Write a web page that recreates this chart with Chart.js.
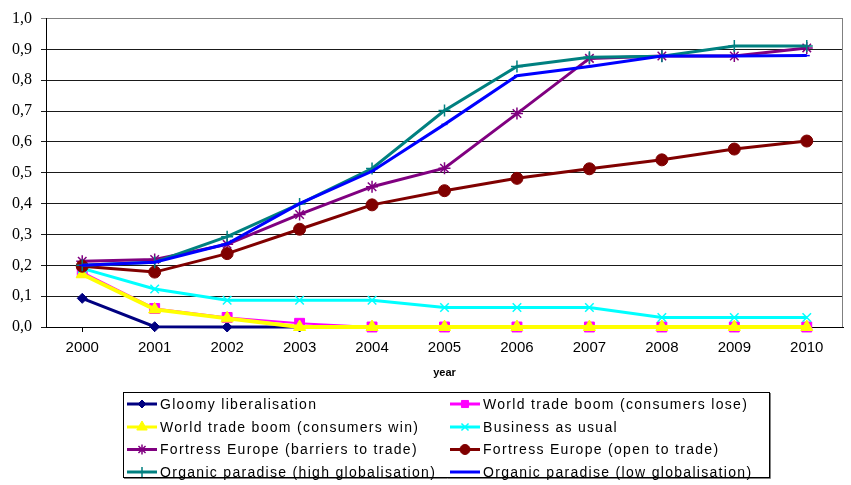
<!DOCTYPE html>
<html>
<head>
<meta charset="utf-8">
<script src="https://cdn.jsdelivr.net/npm/chart.js@4/dist/chart.umd.min.js"></script>
<style>
  body { margin: 0; background: #fff; }
  canvas { display: block; }
</style>
</head>
<body>
<canvas id="chart" width="851" height="485"></canvas>
<script>
// Data
const years = ['2000', '2001', '2002', '2003', '2004', '2005', '2006', '2007', '2008', '2009', '2010'];
const yTicks = [0, 0.1, 0.2, 0.3, 0.4, 0.5, 0.6, 0.7, 0.8, 0.9, 1.0];

const gloomy = [0.093, 0.001, 0, 0, 0, 0, 0, 0, 0, 0, 0];
const tradeLose = [0.178, 0.06, 0.031, 0.012, 0, 0, 0, 0, 0, 0, 0];
const tradeWin = [0.171, 0.057, 0.028, 0, 0, 0, 0, 0, 0, 0, 0];
const businessAsUsual = [0.19, 0.123, 0.087, 0.087, 0.087, 0.063, 0.063, 0.063, 0.031, 0.031, 0.031];
const fortressBarriers = [0.213, 0.219, 0.268, 0.365, 0.455, 0.515, 0.692, 0.871, 0.879, 0.879, 0.905];
const fortressOpen = [0.197, 0.178, 0.238, 0.317, 0.396, 0.442, 0.482, 0.513, 0.542, 0.577, 0.603];
const organicHigh = [0.2, 0.21, 0.293, 0.399, 0.514, 0.702, 0.845, 0.875, 0.878, 0.911, 0.911];
const organicLow = [0.2, 0.21, 0.27, 0.4, 0.505, 0.657, 0.815, 0.845, 0.879, 0.879, 0.88];

const seriesNames = [
  'Gloomy liberalisation',
  'World trade boom (consumers lose)',
  'World trade boom (consumers win)',
  'Business as usual',
  'Fortress Europe (barriers to trade)',
  'Fortress Europe (open to trade)',
  'Organic paradise (high globalisation)',
  'Organic paradise (low globalisation)'
];

function makeSet(i, data, color, style, radius, width, legendRadius) {
  return {
    label: seriesNames[i],
    data: data,
    borderColor: color,
    backgroundColor: color,
    borderWidth: width,
    pointStyle: style,
    pointRadius: radius,
    pointBorderWidth: (style === 'star' || style === 'cross' || style === 'crossRot' || style === 'line') ? 1.5 : 1,
    pointBorderColor: color,
    pointBackgroundColor: color,
    tension: 0,
    clip: false,
    order: 10 - i,          // later series drawn on top, like the original
    legendRadius: legendRadius
  };
}

const datasets = [
  makeSet(0, gloomy, '#000080', 'rectRot', 5, 3, 4),
  makeSet(1, tradeLose, '#FF00FF', 'rect', 7, 2, 5),
  makeSet(2, tradeWin, '#FFFF00', 'triangle', 7, 4, 6),
  makeSet(3, businessAsUsual, '#00FFFF', 'crossRot', 6, 3, 5),
  makeSet(4, fortressBarriers, '#800080', 'star', 6, 3, 5),
  makeSet(5, fortressOpen, '#800000', 'circle', 6, 3, 5),
  makeSet(6, organicHigh, '#008080', 'cross', 6, 3, 5),
  makeSet(7, organicLow, '#0000FF', 'line', 3, 3, 0)
];

// Legend drawn in a framed box with two columns
const boxLegend = {
  id: 'boxLegend',
  afterDraw(chart) {
    const ctx = chart.ctx;
    ctx.save();
    ctx.strokeStyle = '#000';
    ctx.lineWidth = 1;
    ctx.strokeRect(123.5, 392.5, 646, 85);
    ctx.strokeStyle = '#808080';
    ctx.beginPath();
    ctx.moveTo(124, 478.5); ctx.lineTo(770.5, 478.5);
    ctx.moveTo(770.5, 393); ctx.lineTo(770.5, 478.5);
    ctx.stroke();

    const cols = [127, 450];
    const rows = [404, 427, 449.5, 472];
    ctx.font = '14px Arial, "Liberation Sans", sans-serif';
    ctx.textBaseline = 'middle';
    ctx.letterSpacing = '1.3px';
    chart.data.datasets.forEach((ds, i) => {
      const x = cols[i % 2];
      const y = rows[Math.floor(i / 2)];
      ctx.strokeStyle = ds.borderColor;
      ctx.lineWidth = 3;
      ctx.beginPath();
      ctx.moveTo(x, y);
      ctx.lineTo(x + 30, y);
      ctx.stroke();
      if (ds.legendRadius > 0) {
        ctx.fillStyle = ds.backgroundColor;
        ctx.strokeStyle = ds.borderColor;
        ctx.lineWidth = ds.pointBorderWidth;
        Chart.helpers.drawPoint(ctx, {
          pointStyle: ds.pointStyle,
          radius: ds.legendRadius,
          rotation: 0,
          borderWidth: ds.pointBorderWidth
        }, x + 15, y);
      }
      ctx.fillStyle = '#000';
      ctx.fillText(ds.label, x + 33, y + 1);
    });
    ctx.restore();
  }
};

// Gray frame on the right side of the plot
const plotFrame = {
  id: 'plotFrame',
  beforeDatasetsDraw(chart) {
    const a = chart.chartArea;
    const ctx = chart.ctx;
    ctx.save();
    ctx.strokeStyle = '#808080';
    ctx.lineWidth = 1;
    ctx.beginPath();
    ctx.moveTo(Math.round(a.right) - 0.5, a.top);
    ctx.lineTo(Math.round(a.right) - 0.5, a.bottom);
    ctx.stroke();
    ctx.restore();
  }
};

new Chart(document.getElementById('chart'), {
  type: 'line',
  data: { labels: years, datasets: datasets },
  plugins: [plotFrame, boxLegend],
  options: {
    responsive: false,
    animation: false,
    layout: { padding: { top: 13, right: 3, left: 0, bottom: 100 } },
    plugins: {
      legend: { display: false },
      tooltip: { enabled: false }
    },
    scales: {
      x: {
        offset: true,
        afterFit(scale) { scale.height = 58; },
        grid: {
          drawOnChartArea: false,
          drawTicks: true,
          tickLength: 5,
          color: '#000'
        },
        border: { color: '#000', width: 1 },
        ticks: {
          color: '#000',
          padding: 7,
          maxRotation: 0,
          font: { family: 'Arial, "Liberation Sans", sans-serif', size: 15 }
        },
        title: {
          display: true,
          text: 'year',
          color: '#000',
          padding: { top: 0, bottom: 5 },
          font: { family: 'Arial, "Liberation Sans", sans-serif', size: 11, weight: 'bold' }
        }
      },
      y: {
        min: 0,
        max: 1,
        afterFit(scale) { scale.width = 46; },
        afterBuildTicks(scale) { scale.ticks = yTicks.map(v => ({ value: v })); },
        grid: {
          tickLength: 5,
          color: ctx => (ctx.tick && ctx.tick.value === 1 ? '#808080' : '#1a1a1a'),
          lineWidth: 1
        },
        border: { color: '#000', width: 1 },
        ticks: {
          color: '#000',
          padding: 9,
          font: { family: '"Liberation Serif", "Times New Roman", serif', size: 16 },
          callback: v => v.toFixed(1).replace('.', ',')
        }
      }
    }
  }
});
</script>
</body>
</html>
